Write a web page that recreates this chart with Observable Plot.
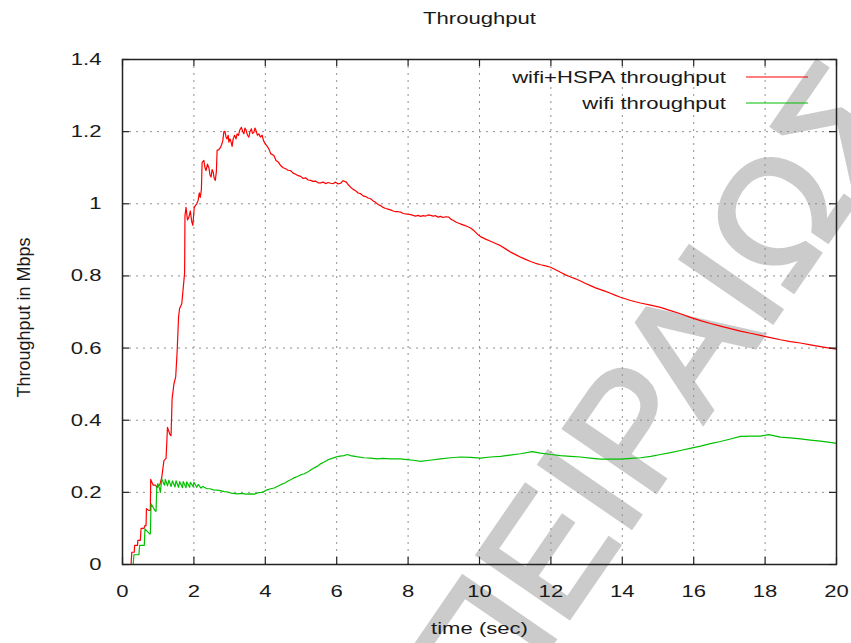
<!DOCTYPE html>
<html><head><meta charset="utf-8">
<script src="https://cdn.jsdelivr.net/npm/d3@7"></script>
<script src="https://cdn.jsdelivr.net/npm/@observablehq/plot@0.6"></script>
<style>body{margin:0;background:#fff;} #chart svg{display:block}</style>
</head><body><div id="chart"></div>
<script>
const chartTitle = "Throughput";
const xLabel = "time (sec)";
const yLabel = "Throughput in Mbps";
const seriesNames = ["wifi+HSPA throughput", "wifi throughput"];
const seriesColors = ["#ff0000", "#00c000"];
const xTicks = [0, 2, 4, 6, 8, 10, 12, 14, 16, 18, 20];
const yTicks = [0, 0.2, 0.4, 0.6, 0.8, 1, 1.2, 1.4];
const watermark = "ΠΑΝΕΠΙΣΤΗΜΙΟ ΠΕΙΡΑΙΩΣ";

const hspaTime = [0.24,0.26,0.33,0.34,0.42,0.43,0.50,0.52,0.60,0.63,0.66,0.67,0.73,0.78,0.79,0.86,0.92,0.97,1.05,1.10,1.16,1.22,1.26,1.33,1.36,1.39,1.44,1.49,1.53,1.57,1.60,1.66,1.72,1.74,1.75,1.78,1.82,1.86,1.90,1.94,1.97,2.01,2.04,2.08,2.12,2.15,2.18,2.21,2.23,2.28,2.31,2.34,2.38,2.42,2.45,2.48,2.51,2.54,2.57,2.60,2.63,2.65,2.70,2.75,2.78,2.81,2.84,2.87,2.90,2.93,2.96,2.98,3.01,3.03,3.07,3.10,3.14,3.18,3.21,3.25,3.28,3.33,3.37,3.40,3.43,3.46,3.50,3.54,3.57,3.61,3.64,3.68,3.71,3.74,3.78,3.82,3.86,3.91,3.95,4.00,4.05,4.10,4.15,4.24,4.30,4.37,4.43,4.50,4.57,4.64,4.71,4.78,4.85,4.92,4.99,5.06,5.13,5.20,5.27,5.34,5.41,5.48,5.55,5.62,5.69,5.76,5.83,5.90,5.97,6.04,6.11,6.18,6.27,6.33,6.39,6.46,6.53,6.60,6.67,6.74,6.81,6.88,6.95,7.02,7.09,7.16,7.23,7.30,7.37,7.44,7.51,7.58,7.65,7.72,7.79,7.86,7.93,8.00,8.07,8.14,8.21,8.28,8.35,8.42,8.49,8.56,8.63,8.70,8.77,8.84,8.91,8.98,9.05,9.14,9.20,9.28,9.35,9.42,9.50,9.58,9.66,9.75,9.85,9.95,10.03,10.17,10.31,10.45,10.59,10.73,10.87,11.01,11.15,11.29,11.43,11.57,11.71,11.85,11.99,12.13,12.27,12.41,12.55,12.69,12.83,12.97,13.11,13.25,13.39,13.53,13.67,13.81,13.95,14.23,14.51,14.79,15.07,15.35,15.63,15.91,16.19,16.47,16.75,17.03,17.31,17.59,17.87,18.15,18.43,18.71,18.99,19.27,19.55,19.80,20.0];
const hspaValue = [0,0.034,0.034,0.053,0.053,0.067,0.067,0.10,0.10,0.108,0.108,0.155,0.15,0.15,0.236,0.22,0.22,0.214,0.222,0.242,0.288,0.294,0.38,0.36,0.357,0.46,0.50,0.52,0.589,0.686,0.71,0.723,0.787,0.81,0.967,0.99,0.955,0.963,0.98,0.95,0.94,0.99,0.995,1.0,1.01,1.03,1.018,1.04,1.115,1.12,1.10,1.092,1.11,1.10,1.08,1.074,1.095,1.088,1.07,1.065,1.09,1.148,1.15,1.157,1.165,1.175,1.20,1.201,1.185,1.18,1.19,1.171,1.18,1.175,1.159,1.18,1.19,1.18,1.194,1.19,1.203,1.212,1.20,1.194,1.21,1.205,1.19,1.185,1.20,1.208,1.195,1.198,1.21,1.203,1.19,1.194,1.185,1.19,1.175,1.166,1.16,1.152,1.139,1.134,1.12,1.115,1.106,1.10,1.097,1.093,1.092,1.085,1.082,1.078,1.076,1.07,1.072,1.066,1.065,1.062,1.063,1.058,1.058,1.06,1.056,1.059,1.057,1.056,1.06,1.055,1.057,1.064,1.06,1.052,1.046,1.04,1.036,1.03,1.028,1.022,1.02,1.016,1.014,1.008,1.004,0.998,0.995,0.99,0.987,0.985,0.983,0.98,0.978,0.978,0.977,0.973,0.972,0.971,0.97,0.968,0.966,0.968,0.965,0.967,0.966,0.969,0.968,0.966,0.967,0.963,0.965,0.962,0.964,0.963,0.957,0.953,0.949,0.946,0.943,0.94,0.937,0.933,0.925,0.915,0.909,0.902,0.896,0.89,0.884,0.875,0.866,0.859,0.852,0.846,0.84,0.835,0.831,0.828,0.824,0.817,0.81,0.803,0.797,0.792,0.786,0.779,0.773,0.767,0.762,0.757,0.752,0.746,0.741,0.732,0.725,0.719,0.713,0.704,0.695,0.685,0.676,0.668,0.661,0.654,0.647,0.641,0.635,0.629,0.623,0.618,0.614,0.609,0.604,0.600,0.597];

const wifiTime = [0.24,0.30,0.32,0.46,0.48,0.61,0.63,0.76,0.78,0.80,0.92,0.94,0.96,0.99,1.04,1.06,1.10,1.15,1.18,1.20,1.26,1.30,1.36,1.40,1.47,1.50,1.57,1.60,1.68,1.70,1.78,1.80,1.88,1.90,1.98,2.00,2.08,2.12,2.20,2.25,2.37,2.45,2.55,2.65,2.74,2.85,2.95,3.05,3.21,3.35,3.45,3.59,3.70,3.80,3.90,3.96,4.05,4.15,4.25,4.33,4.45,4.55,4.65,4.71,4.80,4.90,5.00,5.08,5.20,5.30,5.45,5.55,5.65,5.75,5.83,5.95,6.05,6.20,6.30,6.39,6.55,6.76,6.95,7.13,7.30,7.51,7.79,7.97,8.15,8.35,8.60,8.91,9.20,9.47,9.75,10.03,10.30,10.59,10.85,11.15,11.48,11.71,12.00,12.27,12.55,12.83,13.10,13.39,13.70,13.95,14.25,14.51,14.80,15.07,15.35,15.63,15.90,16.19,16.47,16.75,17.03,17.31,17.60,17.87,18.10,18.43,18.70,18.99,19.27,19.55,19.92,20.0];
const wifiValue = [0,0,0.027,0.027,0.053,0.053,0.099,0.085,0.085,0.168,0.148,0.148,0.214,0.224,0.21,0.2,0.238,0.225,0.22,0.236,0.218,0.234,0.216,0.232,0.215,0.232,0.214,0.23,0.213,0.23,0.213,0.229,0.214,0.228,0.216,0.228,0.214,0.222,0.212,0.216,0.21,0.21,0.207,0.206,0.205,0.202,0.201,0.198,0.196,0.197,0.195,0.196,0.195,0.199,0.2,0.202,0.207,0.21,0.212,0.216,0.222,0.226,0.232,0.235,0.24,0.244,0.249,0.251,0.257,0.264,0.272,0.279,0.284,0.29,0.293,0.297,0.3,0.302,0.305,0.302,0.299,0.296,0.295,0.293,0.294,0.293,0.293,0.291,0.289,0.286,0.289,0.293,0.296,0.298,0.297,0.295,0.298,0.3,0.303,0.307,0.313,0.309,0.305,0.302,0.3,0.298,0.295,0.292,0.292,0.292,0.294,0.296,0.3,0.305,0.31,0.316,0.322,0.328,0.335,0.341,0.348,0.355,0.356,0.356,0.36,0.353,0.351,0.348,0.345,0.342,0.337,0.336];

const rows = [
  ...hspaTime.map((t, i) => ({t, v: hspaValue[i], s: seriesNames[0]})),
  ...wifiTime.map((t, i) => ({t, v: wifiValue[i], s: seriesNames[1]}))
];

const W = 851, H = 643, mL = 122, mR = 15, mT = 59, mB = 79;
const FONT = "'Liberation Sans', Arial, sans-serif";
const STRETCH = 1.3;   // horizontal text in the reference is drawn wide
const innerW = W - mL - mR, innerH = H - mT - mB;
const xMax = xTicks[xTicks.length - 1], yMax = yTicks[yTicks.length - 1];
const tickLenY = 7 * yMax / innerH;   // 7px expressed in y units
const tickLenX = 7 * xMax / innerW;   // 7px expressed in x units
const interiorX = xTicks.slice(1, -1), interiorY = yTicks.slice(1, -1);
const fmt = d => String(+d.toFixed(1));

const plot = Plot.plot({
  width: W, height: H,
  marginLeft: mL, marginRight: mR, marginTop: mT, marginBottom: mB,
  style: {fontFamily: FONT, fontSize: "17px", color: "#1a1a1a", background: "#fff", overflow: "visible"},
  x: {domain: [0, xMax], ticks: xTicks, tickSize: 0, tickPadding: 20, tickFormat: fmt, label: null},
  y: {domain: [0, yMax], ticks: yTicks, tickSize: 0, tickPadding: 21, tickFormat: fmt, label: null},
  color: {domain: seriesNames, range: seriesColors},
  marks: [
    Plot.ruleX(interiorX, {stroke: "#8f8f8f", strokeWidth: 1, strokeDasharray: "2,5"}),
    Plot.ruleY(interiorY, {stroke: "#8f8f8f", strokeWidth: 1, strokeDasharray: "2,5"}),
    Plot.line(rows, {x: "t", y: "v", z: "s", stroke: "s", strokeWidth: 1.2}),
    Plot.ruleX(xTicks, {y1: 0, y2: tickLenY, stroke: "#222", strokeWidth: 1.2}),
    Plot.ruleX(xTicks, {y1: yMax - tickLenY, y2: yMax, stroke: "#222", strokeWidth: 1.2}),
    Plot.ruleY(yTicks, {x1: 0, x2: tickLenX, stroke: "#222", strokeWidth: 1.2}),
    Plot.ruleY(yTicks, {x1: xMax - tickLenX, x2: xMax, stroke: "#222", strokeWidth: 1.2}),
    Plot.frame({stroke: "#222", strokeWidth: 1.5}),
    Plot.text([chartTitle], {frameAnchor: "top", dy: -48, fontSize: 17, fill: "#1a1a1a"}),
    Plot.text([xLabel], {frameAnchor: "bottom", dy: 69, fontSize: 17, fill: "#1a1a1a"})
  ]
});

document.getElementById("chart").appendChild(plot);
const svg = d3.select(plot);

// widen every horizontal text about its anchor point (keep em-based offsets)
svg.selectAll("text").each(function() {
  const xa = this.getAttribute("x"), ya = this.getAttribute("y");
  let tx = 0, ty = 0;
  if (xa !== null && !/em$/.test(xa)) { tx = +xa || 0; this.removeAttribute("x"); }
  if (ya !== null && !/em$/.test(ya)) { ty = +ya || 0; this.removeAttribute("y"); }
  const tr = this.getAttribute("transform") || "";
  this.setAttribute("transform", `${tr} translate(${tx},${ty}) scale(${STRETCH},1)`);
});

const xs = plot.scale("x"), ys = plot.scale("y");
const frameRight = xs.apply(xMax), frameTop = ys.apply(yMax);
const frameMidY = (ys.apply(0) + frameTop) / 2;

// y axis label (rotated)
svg.append("text")
  .attr("transform", `translate(24,${frameMidY + 6}) rotate(-90)`)
  .attr("text-anchor", "middle").attr("dy", "0.35em")
  .attr("font-family", FONT).attr("font-size", 18).attr("fill", "#1a1a1a")
  .text(yLabel);

// Legend inside the top-right of the frame
const leg = svg.append("g").attr("font-family", FONT).attr("font-size", 17).attr("fill", "#1a1a1a");
seriesNames.forEach((name, i) => {
  const cy = frameTop + 18 + i * 26;
  leg.append("text")
    .attr("transform", `translate(${frameRight - 110},${cy}) scale(${STRETCH},1)`)
    .attr("dy", "0.35em").attr("text-anchor", "end").text(name);
  leg.append("line").attr("x1", frameRight - 90).attr("x2", frameRight - 28).attr("y1", cy).attr("y2", cy)
    .attr("stroke", seriesColors[i]).attr("stroke-width", 1.2);
});

// Watermark behind the chart content
svg.insert("text", "g")
  .attr("transform", "translate(915,115) rotate(-55.5)")
  .attr("text-anchor", "end")
  .attr("font-family", FONT)
  .attr("font-size", 162)
  .attr("fill", "#cbcbcb")
  .attr("stroke", "#cbcbcb")
  .attr("stroke-width", 4)
  .attr("stroke-linejoin", "miter")
  .text(watermark);
</script>
</body></html>
